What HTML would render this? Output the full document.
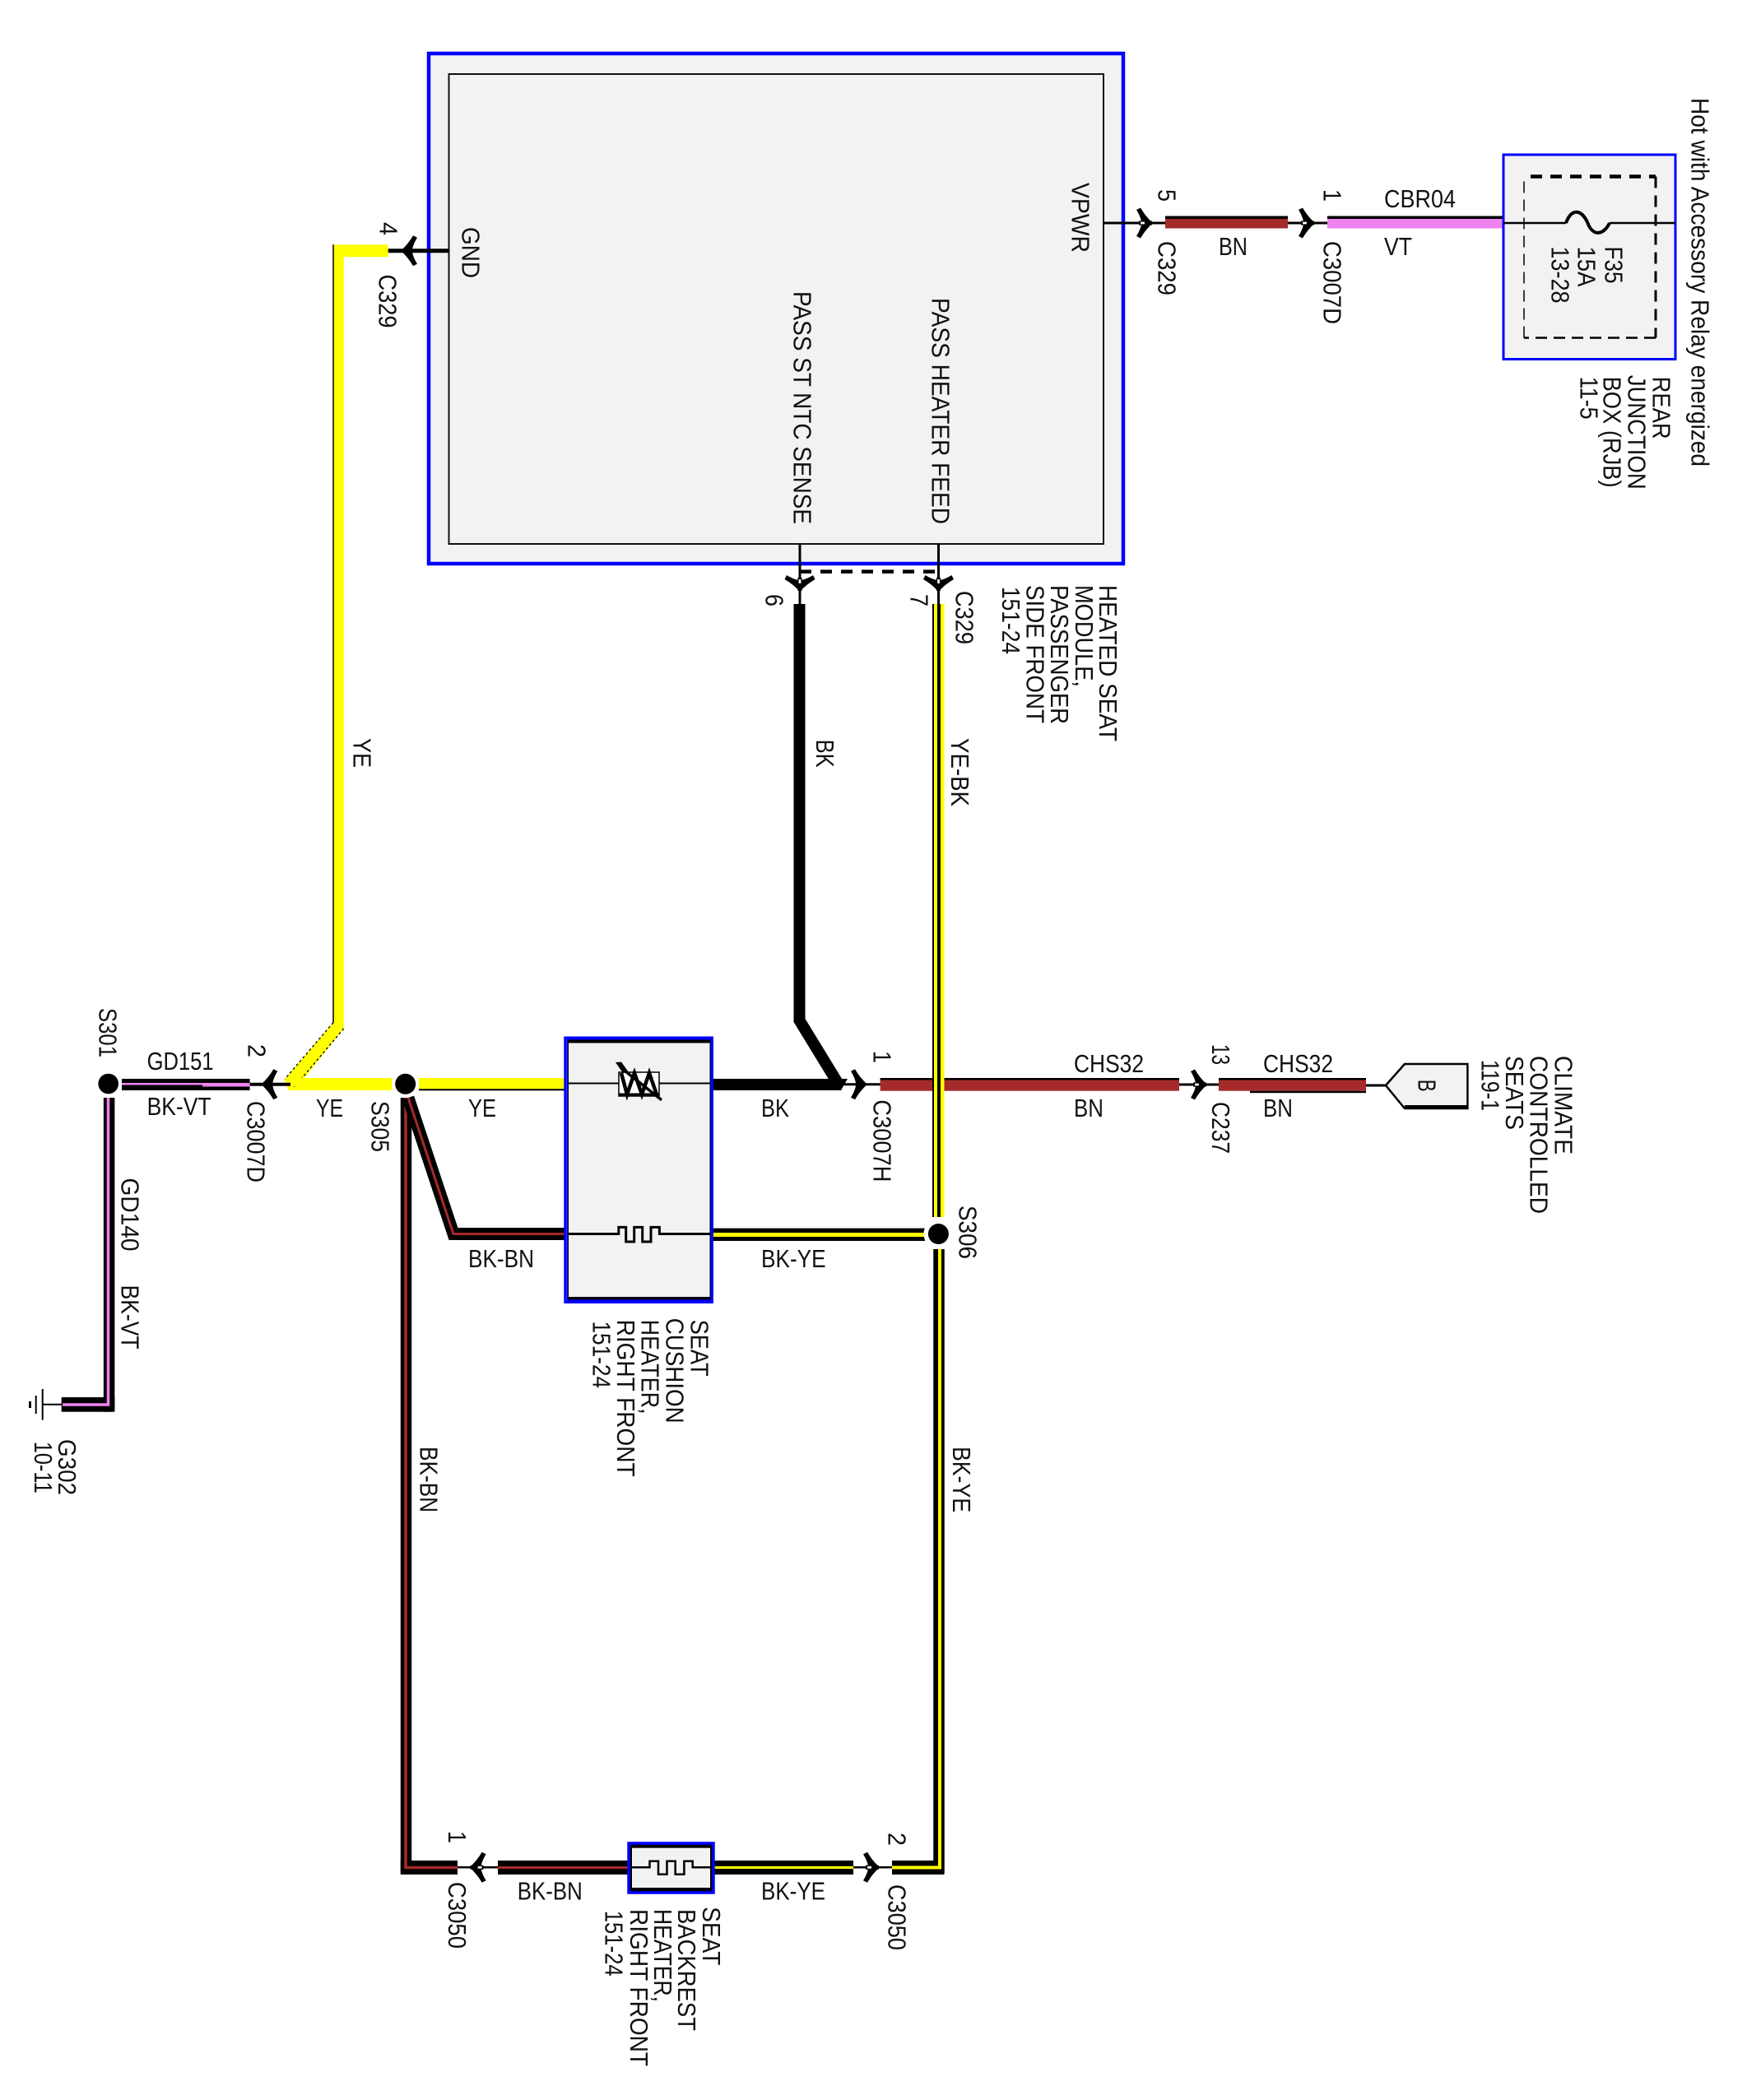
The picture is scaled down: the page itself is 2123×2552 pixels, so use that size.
<!DOCTYPE html>
<html>
<head>
<meta charset="utf-8">
<title>Heated seat wiring diagram</title>
<style>
html,body{margin:0;padding:0;background:#fff;}
svg{display:block;}
text{font-family:"Liberation Sans",sans-serif;font-size:31px;fill:#111;}
</style>
</head>
<body>
<svg xmlns="http://www.w3.org/2000/svg" width="2123" height="2552" viewBox="0 0 2123 2552">
<defs>
<path id="chev" d="M-19,-16 L-14,-18.5 Q-8,-8 1,0 Q-8,8 -14,18.5 L-19,16 Q-13,6 -13,0 Q-13,-6 -19,-16 Z" fill="#000"/>
<g id="arw">
<use href="#chev"/>
<rect x="-16" y="-2.5" width="16" height="5" fill="#000"/>
<rect x="-14.5" y="-2" width="6" height="4" fill="#fff" stroke="#000" stroke-width="1.2"/>
</g>
<g id="arp">
<use href="#chev"/>
<polygon points="-13,-4.5 -6,-4.5 1,0 -6,4.5 -13,4.5" fill="#000"/>
</g>
</defs>
<rect width="2123" height="2552" fill="#fff"/>

<!-- main module -->
<rect x="521" y="65" width="844" height="620" fill="#f2f2f2" stroke="#0000ff" stroke-width="4.5"/>
<rect x="545.5" y="90" width="795.5" height="571" fill="#f2f2f2" stroke="#111" stroke-width="2"/>

<!-- thin leads from module -->
<line x1="1341" y1="271" x2="1416" y2="271" stroke="#000" stroke-width="3"/>
<line x1="545" y1="304.7" x2="470" y2="304.7" stroke="#000" stroke-width="5"/>
<line x1="972" y1="661" x2="972" y2="735" stroke="#000" stroke-width="3"/>
<line x1="1140.5" y1="661" x2="1140.5" y2="735" stroke="#000" stroke-width="3"/>
<line x1="972" y1="694.6" x2="1140" y2="694.6" stroke="#000" stroke-width="4.5" stroke-dasharray="14 11"/>
<use href="#arw" transform="translate(972 718) rotate(90)"/>
<use href="#arw" transform="translate(1140.5 718) rotate(90)"/>
<use href="#arp" transform="translate(488 304.7) rotate(180)"/>

<!-- top right wires -->
<rect x="1416" y="262.5" width="149" height="15" fill="#a52a2a"/>
<rect x="1416" y="262.5" width="149" height="3.5" fill="#000"/>
<line x1="1565" y1="271" x2="1613" y2="271" stroke="#000" stroke-width="3"/>
<use href="#arw" transform="translate(1400 271)"/>
<use href="#arw" transform="translate(1597 271)"/>
<rect x="1613" y="262.5" width="214" height="15" fill="#ee82ee"/>
<rect x="1613" y="262.5" width="214" height="3.5" fill="#000"/>

<!-- junction box -->
<rect x="1827" y="188" width="209" height="248.5" fill="#f2f2f2" stroke="#0000ff" stroke-width="3"/>
<line x1="1827" y1="271" x2="1903" y2="271" stroke="#000" stroke-width="2.5"/>
<line x1="1956" y1="271" x2="2036" y2="271" stroke="#000" stroke-width="2.5"/>
<path d="M1903,271 C1910,252 1922,255 1929,270 C1935,287 1948,287 1956,271" fill="none" stroke="#000" stroke-width="4"/>
<line x1="1860" y1="214.5" x2="2012" y2="214.5" stroke="#000" stroke-width="4.5" stroke-dasharray="14 10"/>
<line x1="2012" y1="214.5" x2="2012" y2="410.5" stroke="#000" stroke-width="3" stroke-dasharray="14 9"/>
<line x1="2012" y1="410.5" x2="1852" y2="410.5" stroke="#000" stroke-width="2.5" stroke-dasharray="14 8"/>
<line x1="1852" y1="410.5" x2="1852" y2="214.5" stroke="#000" stroke-width="1.5" stroke-dasharray="14 8"/>

<!-- yellow GND wire -->
<polygon points="471.7,297.3 405,297.3 405,1242.7 346,1311.5 350,1325 358,1325 417.7,1250 417.7,312.3 471.7,312.3" fill="#ffff00"/>
<line x1="405" y1="297.3" x2="405" y2="1242.7" stroke="#000" stroke-width="1.5"/>
<line x1="405" y1="1242.7" x2="346" y2="1311.5" stroke="#000" stroke-width="1.3" stroke-dasharray="3 3"/>
<line x1="417.7" y1="1250" x2="356" y2="1323" stroke="#000" stroke-width="1.3" stroke-dasharray="3 3"/>
<rect x="358" y="1310" width="118.7" height="15" fill="#ffff00"/>
<rect x="509" y="1310" width="178" height="13.3" fill="#ffff00"/>
<rect x="509" y="1323.3" width="178" height="2" fill="#000"/>

<!-- BK-VT wires -->
<line x1="303" y1="1317.7" x2="353" y2="1317.7" stroke="#000" stroke-width="4"/>
<use href="#arp" transform="translate(318.3 1317.7) rotate(180)"/>
<rect x="148" y="1311" width="155.6" height="14" fill="#000"/>
<rect x="148" y="1316" width="98" height="2.5" fill="#ee82ee"/>
<rect x="246" y="1316" width="57.6" height="4.5" fill="#ee82ee"/>
<path d="M132.6,1334 V1707 H75" fill="none" stroke="#000" stroke-width="13.5"/>
<rect x="126" y="1698" width="13.4" height="17.7" fill="#000"/>
<rect x="74.7" y="1698" width="60" height="17.7" fill="#000"/>
<path d="M131.5,1334 V1707 H76" fill="none" stroke="#ee82ee" stroke-width="3.5"/>

<!-- ground -->
<line x1="52" y1="1706.7" x2="75" y2="1706.7" stroke="#000" stroke-width="2"/>
<line x1="51.7" y1="1688" x2="51.7" y2="1725.7" stroke="#000" stroke-width="2"/>
<line x1="43.7" y1="1696" x2="43.7" y2="1718" stroke="#000" stroke-width="2"/>
<rect x="35" y="1703" width="3" height="8" fill="#000"/>

<!-- BK-BN branches -->
<path d="M493.5,1334 V2269.5 H556" fill="none" stroke="#000" stroke-width="13.5"/>
<rect x="486.8" y="2261" width="69.2" height="17" fill="#000"/>
<path d="M493,1334 V2269.5 H556" fill="none" stroke="#a52a2a" stroke-width="3.5"/>
<path d="M496,1334 L551,1499.5 H687" fill="none" stroke="#000" stroke-width="15"/>
<path d="M496,1334 L551,1499.5 H687" fill="none" stroke="#a52a2a" stroke-width="3"/>

<!-- BK wire -->
<polyline points="971.5,734 971.5,1240 1018,1316" fill="none" stroke="#000" stroke-width="14"/>
<rect x="866" y="1311" width="156.5" height="14" fill="#000"/>
<polygon points="1011,1311 1030,1311 1022,1325 1011,1325" fill="#000"/>
<line x1="1022" y1="1317.7" x2="1070" y2="1317.7" stroke="#000" stroke-width="3"/>
<use href="#arp" transform="translate(1053 1317.7)"/>

<!-- brown CHS32 -->
<rect x="1069.6" y="1310" width="363.4" height="15.7" fill="#a52a2a"/>
<rect x="1069.6" y="1310" width="363.4" height="2.5" fill="#000"/>
<line x1="1433" y1="1318" x2="1482" y2="1318" stroke="#000" stroke-width="3"/>
<use href="#arw" transform="translate(1466 1318)"/>
<rect x="1481" y="1310" width="179" height="15.7" fill="#a52a2a"/>
<rect x="1481" y="1310" width="179" height="2.5" fill="#000"/>
<rect x="1519" y="1325.7" width="141" height="2.5" fill="#000"/>
<line x1="1660" y1="1319" x2="1684" y2="1319" stroke="#000" stroke-width="3"/>
<polygon points="1684,1319 1707,1293 1783.4,1293 1783.4,1347 1707,1347" fill="#f2f2f2" stroke="#000" stroke-width="2.5"/>
<rect x="1707" y="1343" width="76.4" height="4.5" fill="#000"/>

<!-- YE-BK vertical -->
<rect x="1133" y="734" width="14.5" height="745" fill="#ffff00"/>
<rect x="1133" y="734" width="2" height="745" fill="#000"/>
<rect x="1139" y="734" width="4" height="745" fill="#000"/>

<!-- BK-YE horizontal -->
<rect x="866" y="1492.6" width="258" height="15.4" fill="#000"/>
<rect x="866" y="1498" width="258" height="5" fill="#ffff00"/>

<!-- BK-YE down -->
<path d="M1141,1518 V2269.5 H1084" fill="none" stroke="#000" stroke-width="13.5"/>
<rect x="1084" y="2261" width="63.5" height="17" fill="#000"/>
<path d="M1142,1518 V2269.5 H1084" fill="none" stroke="#ffff00" stroke-width="4"/>

<!-- backrest wires -->
<rect x="605" y="2261" width="158" height="17" fill="#000"/>
<rect x="605" y="2268" width="158" height="3" fill="#a52a2a"/>
<rect x="867" y="2261" width="170" height="17" fill="#000"/>
<rect x="867" y="2268" width="170" height="3" fill="#ffff00"/>
<line x1="556" y1="2269.3" x2="605" y2="2269.3" stroke="#000" stroke-width="2.5"/>
<use href="#arw" transform="translate(571.6 2269.3) rotate(180)"/>
<line x1="1037" y1="2269.3" x2="1084" y2="2269.3" stroke="#000" stroke-width="2.5"/>
<use href="#arw" transform="translate(1068 2269.3)"/>

<!-- cushion heater box -->
<rect x="688.5" y="1262.5" width="176.5" height="318.5" fill="#0000ff"/>
<rect x="690" y="1263.5" width="173.5" height="316" fill="#000"/>
<rect x="691" y="1267.5" width="171.5" height="308.5" fill="#f2f2f2"/>
<rect x="686.8" y="1261" width="178.6" height="321.5" fill="none" stroke="#0000ff" stroke-width="3"/>
<line x1="690" y1="1316.5" x2="863" y2="1316.5" stroke="#000" stroke-width="2"/>
<rect x="752" y="1303" width="49" height="29" fill="#fff" stroke="#000" stroke-width="1.5"/>
<rect x="752" y="1328.5" width="49" height="4" fill="#000"/>
<polyline points="755,1304 762,1330 771,1304 780,1330 789,1304 798,1330" fill="none" stroke="#000" stroke-width="4.5"/>
<line x1="755" y1="1298" x2="804" y2="1336.7" stroke="#000" stroke-width="3.5"/>
<polygon points="748,1291 755,1290.5 764,1303 757,1304" fill="#000"/>
<polyline points="690,1499.5 751.8,1499.5 751.8,1491.4 760.7,1491.4 760.7,1509 770.7,1509 770.7,1491.4 780.7,1491.4 780.7,1509 791,1509 791,1491.4 801.4,1491.4 801.4,1499.5 863,1499.5" fill="none" stroke="#000" stroke-width="3"/>

<!-- backrest heater box -->
<rect x="763.5" y="2239.5" width="104" height="61" fill="#000"/>
<rect x="768" y="2245.7" width="95" height="48.3" fill="#f2f2f2"/>
<rect x="764" y="2240" width="103" height="60" fill="none" stroke="#0000ff" stroke-width="3.5"/>
<polyline points="768,2269.3 789.5,2269.3 789.5,2261.7 800,2261.7 800,2277.7 810.5,2277.7 810.5,2261.7 820.7,2261.7 820.7,2277.7 831.4,2277.7 831.4,2261.7 841.7,2261.7 841.7,2269.3 863,2269.3" fill="none" stroke="#000" stroke-width="2.5"/>

<!-- splices -->
<circle cx="131.7" cy="1317" r="16.5" fill="#fff"/>
<circle cx="131.7" cy="1317" r="12.3" fill="#000"/>
<circle cx="492.7" cy="1317.3" r="16.5" fill="#fff"/>
<circle cx="492.7" cy="1317.3" r="12.5" fill="#000"/>
<circle cx="1140.4" cy="1499.5" r="18" fill="#fff"/>
<circle cx="1140.4" cy="1499.5" r="12.5" fill="#000"/>

<!-- rotated labels -->
<g transform="translate(2.5 0)">
<text transform="translate(2053 119) rotate(90)" textLength="448" lengthAdjust="spacingAndGlyphs">Hot with Accessory Relay energized</text>
<text transform="translate(2006 457.6) rotate(90)" textLength="76" lengthAdjust="spacingAndGlyphs">REAR</text>
<text transform="translate(1976 455.7) rotate(90)" textLength="139" lengthAdjust="spacingAndGlyphs">JUNCTION</text>
<text transform="translate(1946 457.6) rotate(90)" textLength="135" lengthAdjust="spacingAndGlyphs">BOX (RJB)</text>
<text transform="translate(1918 457.6) rotate(90)" textLength="52" lengthAdjust="spacingAndGlyphs">11-5</text>
<text transform="translate(1948 299.5) rotate(90)" textLength="45" lengthAdjust="spacingAndGlyphs">F35</text>
<text transform="translate(1915 299.5) rotate(90)" textLength="49" lengthAdjust="spacingAndGlyphs">15A</text>
<text transform="translate(1883 299.5) rotate(90)" textLength="69" lengthAdjust="spacingAndGlyphs">13-28</text>
<text transform="translate(1300 222) rotate(90)" textLength="85" lengthAdjust="spacingAndGlyphs">VPWR</text>
<text transform="translate(1405 230) rotate(90)" textLength="15" lengthAdjust="spacingAndGlyphs">5</text>
<text transform="translate(1606 230) rotate(90)" textLength="15" lengthAdjust="spacingAndGlyphs">1</text>
<text transform="translate(1405 293) rotate(90)" textLength="66" lengthAdjust="spacingAndGlyphs">C329</text>
<text transform="translate(1606 293) rotate(90)" textLength="101" lengthAdjust="spacingAndGlyphs">C3007D</text>

<text transform="translate(559 276) rotate(90)" textLength="62" lengthAdjust="spacingAndGlyphs">GND</text>
<text transform="translate(962 354) rotate(90)" textLength="283" lengthAdjust="spacingAndGlyphs">PASS ST NTC SENSE</text>
<text transform="translate(1130 362) rotate(90)" textLength="275" lengthAdjust="spacingAndGlyphs">PASS HEATER FEED</text>
<text transform="translate(459 270) rotate(90)" textLength="16" lengthAdjust="spacingAndGlyphs">4</text>
<text transform="translate(458 333.5) rotate(90)" textLength="65" lengthAdjust="spacingAndGlyphs">C329</text>
<text transform="translate(427 897) rotate(90)" textLength="36" lengthAdjust="spacingAndGlyphs">YE</text>

<text transform="translate(928 722) rotate(90)" textLength="15" lengthAdjust="spacingAndGlyphs">6</text>
<text transform="translate(1104 722) rotate(90)" textLength="15" lengthAdjust="spacingAndGlyphs">7</text>
<text transform="translate(1159 718) rotate(90)" textLength="65" lengthAdjust="spacingAndGlyphs">C329</text>
<text transform="translate(989.5 898.6) rotate(90)" textLength="34" lengthAdjust="spacingAndGlyphs">BK</text>
<text transform="translate(1153.6 897) rotate(90)" textLength="83" lengthAdjust="spacingAndGlyphs">YE-BK</text>
<text transform="translate(1333.4 711) rotate(90)" textLength="190" lengthAdjust="spacingAndGlyphs">HEATED SEAT</text>
<text transform="translate(1304.5 711) rotate(90)" textLength="124" lengthAdjust="spacingAndGlyphs">MODULE,</text>
<text transform="translate(1274.7 711) rotate(90)" textLength="169" lengthAdjust="spacingAndGlyphs">PASSENGER</text>
<text transform="translate(1245 711) rotate(90)" textLength="168" lengthAdjust="spacingAndGlyphs">SIDE FRONT</text>
<text transform="translate(1215.6 713) rotate(90)" textLength="82" lengthAdjust="spacingAndGlyphs">151-24</text>

<text transform="translate(118 1225) rotate(90)" textLength="60" lengthAdjust="spacingAndGlyphs">S301</text>
<text transform="translate(299 1269) rotate(90)" textLength="16" lengthAdjust="spacingAndGlyphs">2</text>
<text transform="translate(298 1338) rotate(90)" textLength="99" lengthAdjust="spacingAndGlyphs">C3007D</text>
<text transform="translate(449 1338) rotate(90)" textLength="62" lengthAdjust="spacingAndGlyphs">S305</text>
<text transform="translate(145 1431.5) rotate(90)" textLength="89" lengthAdjust="spacingAndGlyphs">GD140</text>
<text transform="translate(145 1561.6) rotate(90)" textLength="78" lengthAdjust="spacingAndGlyphs">BK-VT</text>
<text transform="translate(68.3 1749) rotate(90)" textLength="68" lengthAdjust="spacingAndGlyphs">G302</text>
<text transform="translate(39.3 1751.7) rotate(90)" textLength="63" lengthAdjust="spacingAndGlyphs">10-11</text>
<text transform="translate(508 1758) rotate(90)" textLength="80" lengthAdjust="spacingAndGlyphs">BK-BN</text>
<text transform="translate(1155.7 1758) rotate(90)" textLength="80" lengthAdjust="spacingAndGlyphs">BK-YE</text>
<text transform="translate(1163 1465) rotate(90)" textLength="65" lengthAdjust="spacingAndGlyphs">S306</text>

<text transform="translate(1059 1277) rotate(90)" textLength="15" lengthAdjust="spacingAndGlyphs">1</text>
<text transform="translate(1059 1336.4) rotate(90)" textLength="100" lengthAdjust="spacingAndGlyphs">C3007H</text>
<text transform="translate(1470.5 1269) rotate(90)" textLength="25" lengthAdjust="spacingAndGlyphs">13</text>
<text transform="translate(1470.5 1339) rotate(90)" textLength="63" lengthAdjust="spacingAndGlyphs">C237</text>
<text transform="translate(1721 1311.7) rotate(90)" textLength="15" lengthAdjust="spacingAndGlyphs">B</text>
<text transform="translate(1887 1283) rotate(90)" textLength="120" lengthAdjust="spacingAndGlyphs">CLIMATE</text>
<text transform="translate(1857 1283) rotate(90)" textLength="192" lengthAdjust="spacingAndGlyphs">CONTROLLED</text>
<text transform="translate(1827.6 1283) rotate(90)" textLength="90" lengthAdjust="spacingAndGlyphs">SEATS</text>
<text transform="translate(1798 1288) rotate(90)" textLength="62" lengthAdjust="spacingAndGlyphs">119-1</text>

<text transform="translate(836.8 1603.6) rotate(90)" textLength="69" lengthAdjust="spacingAndGlyphs">SEAT</text>
<text transform="translate(807 1601.7) rotate(90)" textLength="128" lengthAdjust="spacingAndGlyphs">CUSHION</text>
<text transform="translate(777 1603.6) rotate(90)" textLength="115" lengthAdjust="spacingAndGlyphs">HEATER,</text>
<text transform="translate(747.5 1603.6) rotate(90)" textLength="191" lengthAdjust="spacingAndGlyphs">RIGHT FRONT</text>
<text transform="translate(717.9 1605.5) rotate(90)" textLength="81.5" lengthAdjust="spacingAndGlyphs">151-24</text>

<text transform="translate(542.6 2225) rotate(90)" textLength="15" lengthAdjust="spacingAndGlyphs">1</text>
<text transform="translate(542.6 2287) rotate(90)" textLength="81" lengthAdjust="spacingAndGlyphs">C3050</text>
<text transform="translate(1077 2227) rotate(90)" textLength="16" lengthAdjust="spacingAndGlyphs">2</text>
<text transform="translate(1077 2290) rotate(90)" textLength="80" lengthAdjust="spacingAndGlyphs">C3050</text>
<text transform="translate(851.5 2317.3) rotate(90)" textLength="71" lengthAdjust="spacingAndGlyphs">SEAT</text>
<text transform="translate(821.6 2320) rotate(90)" textLength="148" lengthAdjust="spacingAndGlyphs">BACKREST</text>
<text transform="translate(792.6 2320) rotate(90)" textLength="113" lengthAdjust="spacingAndGlyphs">HEATER,</text>
<text transform="translate(763.6 2320) rotate(90)" textLength="191" lengthAdjust="spacingAndGlyphs">RIGHT FRONT</text>
<text transform="translate(733 2321.7) rotate(90)" textLength="80" lengthAdjust="spacingAndGlyphs">151-24</text>
</g>

<!-- horizontal labels -->
<g>
<text x="1682" y="252" textLength="87" lengthAdjust="spacingAndGlyphs">CBR04</text>
<text x="1481" y="310" textLength="35" lengthAdjust="spacingAndGlyphs">BN</text>
<text x="1682" y="310" textLength="34" lengthAdjust="spacingAndGlyphs">VT</text>
<text x="178.6" y="1300" textLength="81" lengthAdjust="spacingAndGlyphs">GD151</text>
<text x="178.6" y="1355" textLength="78" lengthAdjust="spacingAndGlyphs">BK-VT</text>
<text x="384" y="1357" textLength="33" lengthAdjust="spacingAndGlyphs">YE</text>
<text x="569" y="1357" textLength="34" lengthAdjust="spacingAndGlyphs">YE</text>
<text x="569" y="1540" textLength="80" lengthAdjust="spacingAndGlyphs">BK-BN</text>
<text x="925" y="1357" textLength="34" lengthAdjust="spacingAndGlyphs">BK</text>
<text x="925" y="1540" textLength="78.6" lengthAdjust="spacingAndGlyphs">BK-YE</text>
<text x="1305" y="1303" textLength="85" lengthAdjust="spacingAndGlyphs">CHS32</text>
<text x="1535" y="1303" textLength="85" lengthAdjust="spacingAndGlyphs">CHS32</text>
<text x="1305" y="1357" textLength="36" lengthAdjust="spacingAndGlyphs">BN</text>
<text x="1535" y="1357" textLength="36" lengthAdjust="spacingAndGlyphs">BN</text>
<text x="628.8" y="2308.5" textLength="79" lengthAdjust="spacingAndGlyphs">BK-BN</text>
<text x="925" y="2308.5" textLength="78" lengthAdjust="spacingAndGlyphs">BK-YE</text>
</g>
</svg>
</body>
</html>
